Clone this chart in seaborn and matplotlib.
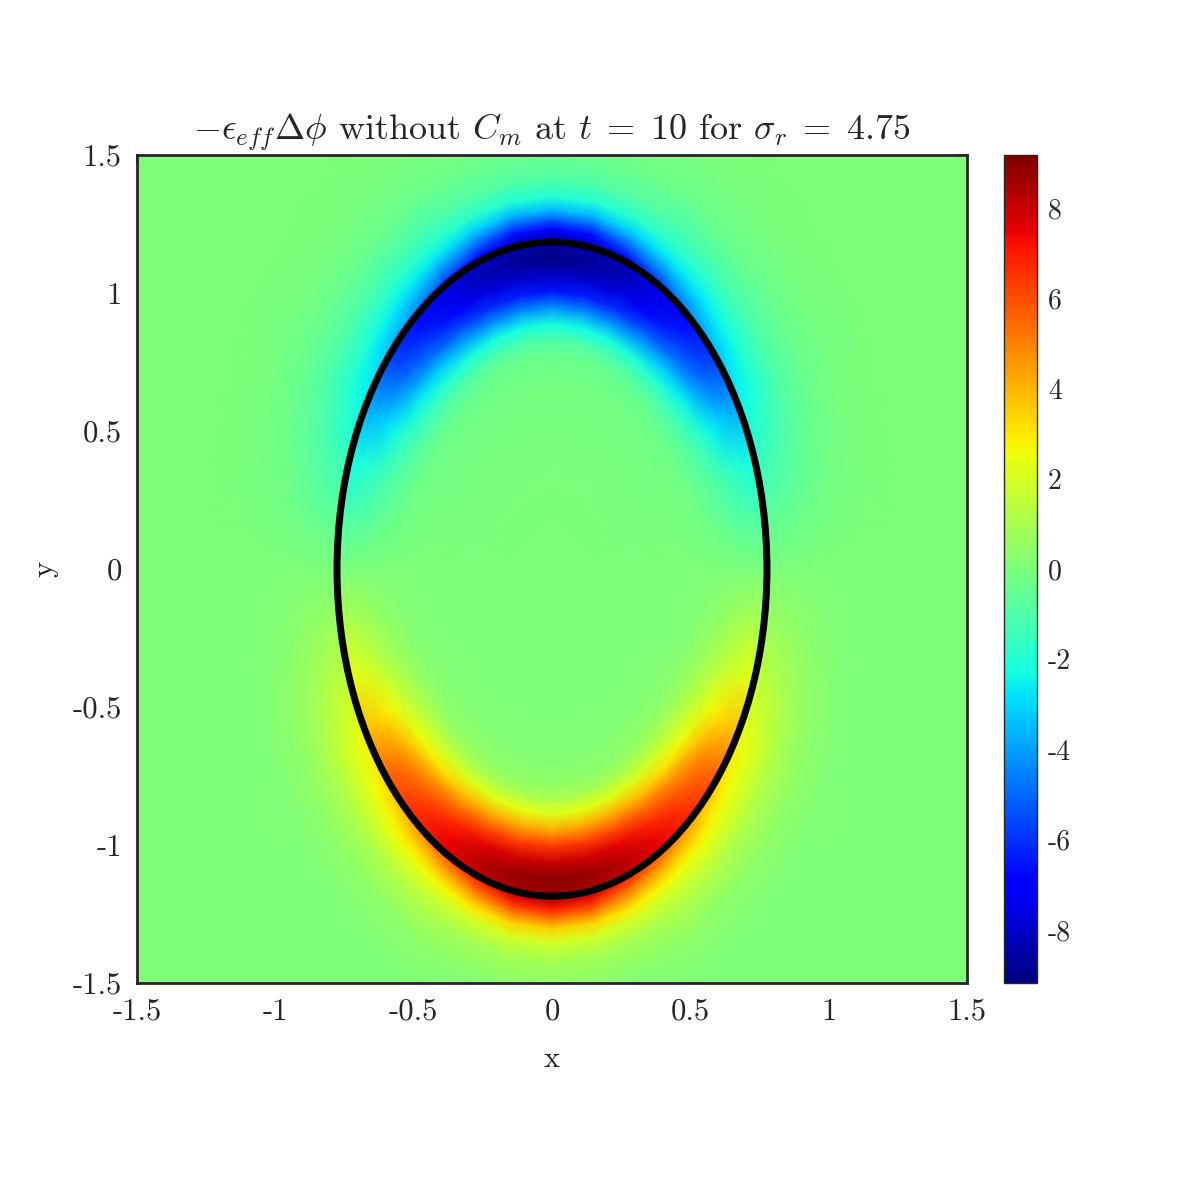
import numpy as np
import matplotlib
matplotlib.use('Agg')
import matplotlib.pyplot as plt
from matplotlib.patches import Ellipse
import seaborn as sns

# interface (drop boundary) semi-axes
semi_x = 0.777
semi_y = 1.185

# sampling rings: scaled radius (1 = interface) and angle in degrees
s_nodes = [0.0, 0.4, 0.55, 0.65, 0.7, 0.75, 0.8, 0.85, 0.9, 0.95, 0.99,
           1.01, 1.04, 1.07, 1.1, 1.14, 1.2, 1.3, 1.45, 1.7, 2.6]
theta_nodes = [0, 10, 20, 30, 40, 50, 60, 70, 80, 90]

# -eps_eff * laplace(phi) in the upper-right quadrant, one row per angle
field_q1 = [
    [0, 0, 0, 0, 0, 0, 0, 0, 0, 0, 0,
     0, 0, 0, 0, 0, 0, 0, 0, 0, 0],
    [0, -0.01, -0.03, -0.1, -0.2, -0.33, -0.47, -0.68, -0.88, -1.05, -1.1,
     -0.75, -0.7, -0.66, -0.6, -0.51, -0.37, -0.19, -0.035, 0, 0],
    [0, -0.02, -0.06, -0.2, -0.4, -0.69, -0.99, -1.43, -1.84, -2.19, -2.3,
     -1.56, -1.47, -1.38, -1.24, -1.06, -0.76, -0.39, -0.07, 0, 0],
    [0, -0.02, -0.08, -0.3, -0.62, -1.1, -1.67, -2.47, -3.15, -3.65, -3.8,
     -2.47, -2.36, -2.17, -1.9, -1.56, -1.06, -0.49, -0.08, 0, 0],
    [0, -0.02, -0.1, -0.42, -0.88, -1.6, -2.52, -3.8, -4.82, -5.43, -5.6,
     -3.36, -2.9, -2.52, -2.13, -1.68, -1.06, -0.45, -0.07, 0, 0],
    [0, -0.03, -0.1, -0.45, -0.95, -1.9, -3.15, -4.7, -5.8, -6.5, -6.7,
     -4.3, -3.6, -3.0, -2.45, -1.85, -1.1, -0.4, -0.06, 0, 0],
    [0, -0.03, -0.1, -0.45, -1.0, -2.1, -3.8, -5.5, -6.8, -7.45, -7.5,
     -5.6, -4.45, -3.5, -2.65, -1.85, -1.1, -0.38, -0.05, 0, 0],
    [0, -0.02, -0.1, -0.42, -1.0, -2.25, -4.2, -6.1, -7.6, -8.3, -8.2,
     -6.9, -5.5, -4.2, -3.0, -1.8, -0.9, -0.28, -0.04, 0, 0],
    [0, -0.02, -0.1, -0.4, -1.0, -2.3, -4.3, -6.4, -7.9, -8.8, -8.6,
     -8.1, -6.6, -5.0, -3.4, -1.95, -0.88, -0.26, -0.04, 0, 0],
    [0, -0.02, -0.1, -0.4, -1.0, -2.2, -4.3, -6.5, -8.1, -9.0, -8.7,
     -8.4, -6.9, -5.2, -3.5, -2.0, -0.9, -0.26, -0.04, 0, 0],
]

xtick_vals = [-1.5, -1, -0.5, 0, 0.5, 1, 1.5]
xtick_labels = ['-1.5', '-1', '-0.5', '0', '0.5', '1', '1.5']
cbar_ticks = [-8, -6, -4, -2, 0, 2, 4, 6, 8]
cbar_labels = ['-8', '-6', '-4', '-2', '0', '2', '4', '6', '8']
clim = 9.18

sns.set_style('white')
plt.rcParams['font.family'] = ['cmr10', 'DejaVu Serif']
plt.rcParams['mathtext.fontset'] = 'cm'
plt.rcParams['axes.unicode_minus'] = False

# full circle: mirror in x, antisymmetric in y
q1 = np.array(field_q1)
upper = np.vstack([q1, q1[-2::-1]])
full = np.vstack([upper, -upper[-2::-1]])
th_upper = theta_nodes + [180 - t for t in theta_nodes[-2::-1]]
th_full = np.deg2rad(th_upper + [360 - t for t in th_upper[-2::-1]])
s = np.array(s_nodes)
X = semi_x * np.outer(np.cos(th_full), s)
Y = semi_y * np.outer(np.sin(th_full), s)

fig = plt.figure(figsize=(11.81, 11.81), dpi=100)
ax = fig.add_axes([0.116, 0.1676, 0.7028, 0.7011])
cax = fig.add_axes([0.8501, 0.1676, 0.0279, 0.7011])

mesh = ax.pcolormesh(X, Y, full, cmap='jet', vmin=-clim, vmax=clim,
                     shading='gouraud', rasterized=True)
ax.add_patch(Ellipse((0, 0), 2 * semi_x, 2 * semi_y, fill=False,
                     edgecolor='black', lw=5, zorder=3))
ax.set_facecolor(plt.cm.jet(0.5))
ax.set_xlim(-1.5, 1.5)
ax.set_ylim(-1.5, 1.5)

dark = (0.15, 0.15, 0.15)
ax.set_xticks(xtick_vals)
ax.set_xticklabels(xtick_labels)
ax.set_yticks(xtick_vals)
ax.set_yticklabels(xtick_labels)
ax.tick_params(direction='in', top=True, right=True, length=7, width=1.2,
               color=dark, labelcolor=dark, labelsize=22, pad=11)
for sp in ax.spines.values():
    sp.set_linewidth(2)
    sp.set_color(dark)
ax.set_xlabel('x', fontsize=22, color=dark, labelpad=14)
ax.set_ylabel('y', fontsize=22, color=dark, labelpad=10)
ax.set_title(r'$-\epsilon_{eff}\Delta\phi$ without $C_m$ at $t\;=\;10$ for $\sigma_r\;=\;4.75$',
             fontsize=26, pad=11)

cbar = fig.colorbar(mesh, cax=cax, ticks=cbar_ticks)
cbar.ax.set_yticklabels(cbar_labels)
cbar.ax.tick_params(direction='in', length=6, width=1, color=dark,
                    labelcolor=dark, labelsize=20, pad=8)
cbar.outline.set_edgecolor(dark)
cbar.outline.set_linewidth(1)

fig.savefig('out.png', dpi=100)
